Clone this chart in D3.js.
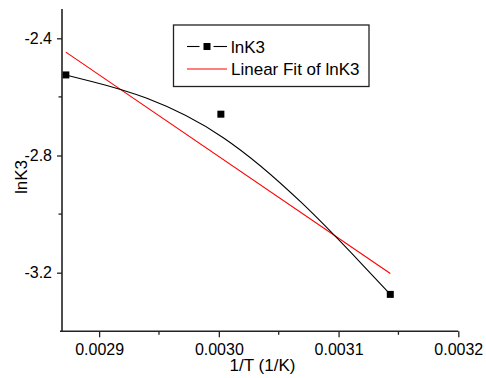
<!DOCTYPE html>
<html>
<head>
<meta charset="utf-8">
<script src="https://cdn.jsdelivr.net/npm/d3@7/dist/d3.min.js"></script>
<style>
  html, body { margin: 0; padding: 0; background: #fff; }
  svg { display: block; font-family: "Liberation Sans", Arial, sans-serif; }
</style>
</head>
<body>
<svg id="chart" width="486" height="378"></svg>
<script>
// Measured points: 1/T (1/K) and lnK3
const invT = [0.0028722, 0.0030017, 0.0031432];
const lnK3 = [-2.525, -2.659, -3.274];

// Axis ticks
const xMajor = [0.0029, 0.0030, 0.0031, 0.0032];
const xMinor = [0.00295, 0.00305, 0.00315];
const yMajor = [-2.4, -2.8, -3.2];
const yMinor = [-2.6, -3.0];

const legendLabels = ["lnK3", "Linear Fit of lnK3"];

const svg = d3.select("#chart");

const x = d3.scaleLinear().domain([0.002869, 0.0032]).range([62, 458.3]);
const y = d3.scaleLinear().domain([-3.4, -2.3]).range([331.3, 9.0]);

const pts = invT.map((v, i) => [v, lnK3[i]]);

// Least-squares line through the points
const mx = d3.mean(invT), my = d3.mean(lnK3);
const sxy = d3.sum(pts, p => (p[0] - mx) * (p[1] - my));
const sxx = d3.sum(invT, v => (v - mx) * (v - mx));
const slope = sxy / sxx, intercept = my - slope * mx;
const fitX = d3.extent(invT);

// Linear fit (red)
svg.append("path")
  .attr("d", d3.line().x(d => x(d)).y(d => y(intercept + slope * d))(fitX))
  .attr("fill", "none").attr("stroke", "#ff0000").attr("stroke-width", 1.1);

// Smoothed connection through the data
svg.append("path")
  .attr("d", d3.line().curve(d3.curveBasis).x(d => x(d[0])).y(d => y(d[1]))(pts))
  .attr("fill", "none").attr("stroke", "#000").attr("stroke-width", 1.1);

// Square markers
svg.selectAll("rect.pt").data(pts).join("rect")
  .attr("class", "pt")
  .attr("x", d => x(d[0]) - 3.5).attr("y", d => y(d[1]) - 3.5)
  .attr("width", 7).attr("height", 7).attr("fill", "#000");

// Bottom axis
const gx = svg.append("g").attr("transform", `translate(0,${y(-3.4)})`);
gx.call(d3.axisBottom(x).tickValues(xMajor).tickFormat(d => d.toFixed(4))
  .tickSize(6).tickSizeOuter(0).tickPadding(6));
gx.select(".domain").remove();
gx.append("line").attr("x1", 60).attr("x2", x(0.0032)).attr("stroke", "#222").attr("stroke-width", 1.6);
gx.selectAll(".tick line").attr("stroke", "#222").attr("stroke-width", 1.3);
gx.selectAll(".tick text").attr("font-size", 16).attr("fill", "#000")
  .attr("font-family", "Liberation Sans, Arial, sans-serif");
gx.selectAll("line.minor").data(xMinor).join("line").attr("class", "minor")
  .attr("x1", d => x(d)).attr("x2", d => x(d)).attr("y1", 0).attr("y2", 3.5)
  .attr("stroke", "#222").attr("stroke-width", 1.3);

// Left axis
const gy = svg.append("g").attr("transform", `translate(${x(0.002869)},0)`);
gy.call(d3.axisLeft(y).tickValues(yMajor).tickFormat(d => d.toFixed(1))
  .tickSize(5).tickSizeOuter(0).tickPadding(5));
gy.select(".domain").remove();
gy.append("line").attr("y1", y(-2.3)).attr("y2", y(-3.4)).attr("stroke", "#222").attr("stroke-width", 1.6);
gy.selectAll(".tick line").attr("stroke", "#222").attr("stroke-width", 1.3);
gy.selectAll(".tick text").attr("font-size", 16).attr("fill", "#000")
  .attr("font-family", "Liberation Sans, Arial, sans-serif");
gy.selectAll("line.minor").data(yMinor).join("line").attr("class", "minor")
  .attr("y1", d => y(d)).attr("y2", d => y(d)).attr("x1", 0).attr("x2", -3.5)
  .attr("stroke", "#222").attr("stroke-width", 1.3);

// Axis titles
svg.append("text").attr("x", 262.5).attr("y", 371).attr("text-anchor", "middle")
  .attr("font-size", 17).text("1/T (1/K)");
svg.append("text").attr("transform", "translate(27,177) rotate(-90)")
  .attr("text-anchor", "middle").attr("font-size", 17).text("lnK3");

// Legend
const lg = svg.append("g");
lg.append("rect").attr("x", 173.5).attr("y", 25).attr("width", 195.5).attr("height", 61.5)
  .attr("fill", "#fff").attr("stroke", "#222").attr("stroke-width", 1.3);
lg.append("line").attr("x1", 187).attr("x2", 199.5).attr("y1", 46.5).attr("y2", 46.5)
  .attr("stroke", "#000").attr("stroke-width", 1.1);
lg.append("line").attr("x1", 213.5).attr("x2", 227).attr("y1", 46.5).attr("y2", 46.5)
  .attr("stroke", "#000").attr("stroke-width", 1.1);
lg.append("rect").attr("x", 203.5).attr("y", 43).attr("width", 7).attr("height", 7).attr("fill", "#000");
lg.append("line").attr("x1", 187).attr("x2", 227).attr("y1", 69).attr("y2", 69)
  .attr("stroke", "#ff0000").attr("stroke-width", 1.1);
lg.selectAll("text").data(legendLabels).join("text")
  .attr("x", 231).attr("y", (d, i) => 52.5 + i * 22.7)
  .attr("font-size", 17).text(d => d);
</script>
</body>
</html>
